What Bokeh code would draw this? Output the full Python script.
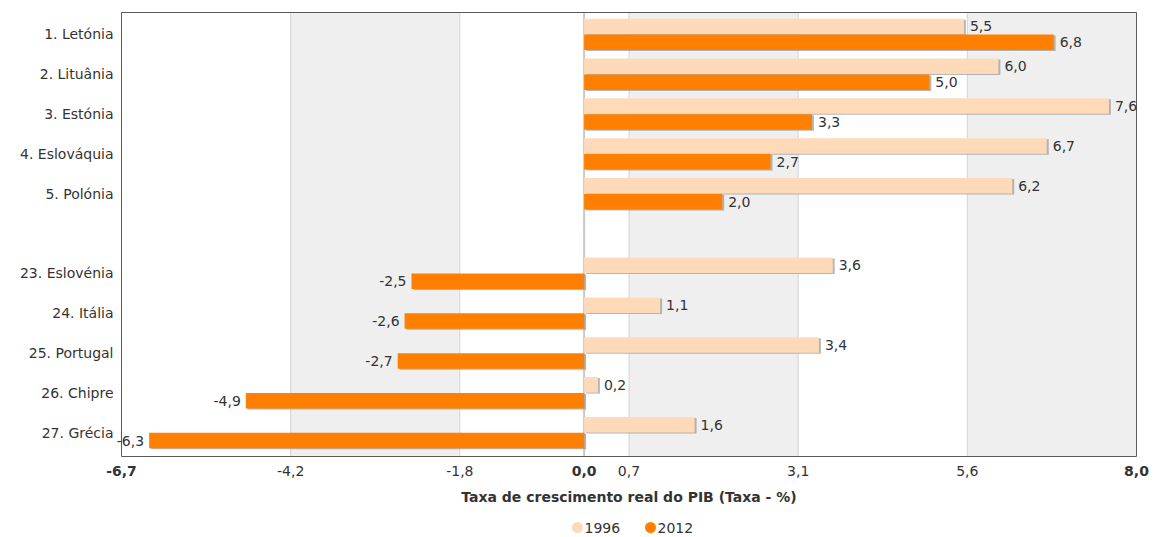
from bokeh.plotting import figure
from bokeh.models import Range1d, ColumnDataSource, BoxAnnotation
from bokeh.embed import file_html
from bokeh.resources import INLINE
from bokeh.core.properties import value

# Real GDP growth rate (%), 1996 vs 2012
countries = ["1. Letónia", "2. Lituânia", "3. Estónia", "4. Eslováquia", "5. Polónia",
             "23. Eslovénia", "24. Itália", "25. Portugal", "26. Chipre", "27. Grécia"]
slots = [0, 1, 2, 3, 4, 6, 7, 8, 9, 10]
g1996 = [5.5, 6.0, 7.6, 6.7, 6.2, 3.6, 1.1, 3.4, 0.2, 1.6]
g2012 = [6.8, 5.0, 3.3, 2.7, 2.0, -2.5, -2.6, -2.7, -4.9, -6.3]
series = ["1996", "2012"]

x_ticks = [-6.7, -4.25, -1.8, 0.0, 0.65, 3.1, 5.55, 8.0]
x_tick_labels = ["-6,7", "-4,2", "-1,8", "0,0", "0,7", "3,1", "5,6", "8,0"]
bold_ticks = [-6.7, 0.0, 8.0]
grid_ticks = [-4.25, -1.8, 0.65, 3.1, 5.55]
bands = [(-4.25, -1.8), (0.65, 3.1), (5.55, 8.0)]
x_title = "Taxa de crescimento real do PIB (Taxa - %)"

C96 = "#FFDAB9"
C12 = "#FF8000"
TXT = "#333333"
FONT = "DejaVu Sans"
FS = "14px"

def fmt(v):
    return f"{v:.1f}".replace(".", ",")

# plot area in data units and its pixel box on the page
X0, X1 = -6.7, 8.0
Y_TOP, Y_BOT = -0.55, 10.6
W, H = 1154, 537
L, R, T, B = 121, 1136, 12, 456
px_x = (X1 - X0) / (R - L)
px_y = (Y_BOT - Y_TOP) / (B - T)

def xd(px):
    return X0 + (px - L) * px_x

def yd(py):
    return Y_TOP + (py - T) * px_y

p = figure(frame_width=W, frame_height=H,
           x_range=Range1d(xd(0), xd(W)), y_range=Range1d(yd(H), yd(0)),
           x_axis_type=None, y_axis_type=None,
           output_backend="svg", toolbar_location=None,
           min_border=0)
p.outline_line_color = None
p.background_fill_color = "white"
p.border_fill_color = "white"
p.grid.visible = False

# alternating bands and grid lines
for a, b in bands:
    p.add_layout(BoxAnnotation(left=a, right=b, top=Y_TOP, bottom=Y_BOT,
                               fill_color="#EFEFEF", fill_alpha=1,
                               line_color=None, level="underlay"))
p.segment(x0=grid_ticks, x1=grid_ticks, y0=[Y_TOP] * len(grid_ticks), y1=[Y_BOT] * len(grid_ticks),
          line_color="#D4D4D4", line_width=1)
p.segment(x0=[0], x1=[0], y0=[Y_TOP], y1=[Y_BOT], line_color="#C8C8C8", line_width=2)

bh = 15.5 * px_y
sh_dx = 2 * px_x
sh_dy = 1 * px_y

src = ColumnDataSource(dict(
    y96=[s - 0.2 for s in slots], y12=[s + 0.2 for s in slots],
    sy96=[s - 0.2 + sh_dy for s in slots], sy12=[s + 0.2 + sh_dy for s in slots],
    v96=g1996, v12=g2012,
    s96=[v + sh_dx for v in g1996], s12=[v + sh_dx for v in g2012],
))

# bar shadows
p.hbar(y="sy96", left=sh_dx, right="s96", height=bh, source=src,
       fill_color="#999999", fill_alpha=0.7, line_color=None)
p.hbar(y="sy12", left=sh_dx, right="s12", height=bh, source=src,
       fill_color="#999999", fill_alpha=0.7, line_color=None)

# bars
p.hbar(y="y96", left=0, right="v96", height=bh, source=src, fill_color=C96, line_color=None)
p.hbar(y="y12", left=0, right="v12", height=bh, source=src, fill_color=C12, line_color=None)

# plot border
p.quad(left=[X0], right=[X1], top=[Y_TOP], bottom=[Y_BOT], fill_color=None,
       line_color="#5A5A5A", line_width=1)

txt = dict(text_font=value(FONT), text_font_size=FS, text_color=TXT, text_baseline="middle")

# value labels
vals = list(g1996) + list(g2012)
ys = [s - 0.2 for s in slots] + [s + 0.2 for s in slots]
pos = [(v, y) for v, y in zip(vals, ys) if v >= 0]
neg = [(v, y) for v, y in zip(vals, ys) if v < 0]
p.text(x=[v for v, _ in pos], y=[y for _, y in pos], text=[fmt(v) for v, _ in pos],
       x_offset=6, text_align="left", **txt)
p.text(x=[v for v, _ in neg], y=[y for _, y in neg], text=[fmt(v) for v, _ in neg],
       x_offset=-5, text_align="right", **txt)

# category labels
p.text(x=[X0] * len(slots), y=slots, text=countries, x_offset=-8, text_align="right", **txt)

# x tick labels
ty = Y_BOT + 14 * px_y
norm = [(t, l) for t, l in zip(x_ticks, x_tick_labels) if t not in bold_ticks]
bold = [(t, l) for t, l in zip(x_ticks, x_tick_labels) if t in bold_ticks]
p.text(x=[t for t, _ in norm], y=[ty] * len(norm), text=[l for _, l in norm],
       text_align="center", **txt)
p.text(x=[t for t, _ in bold], y=[ty] * len(bold), text=[l for _, l in bold],
       text_align="center", text_font_style="bold", **txt)

# axis title
p.text(x=[(X0 + X1) / 2], y=[Y_BOT + 40 * px_y], text=[x_title], text_align="center",
       text_font_style="bold", **txt)

# legend
ly = Y_BOT + 71 * px_y
lx = [xd(577), xd(650)]
p.scatter(x=lx, y=[ly, ly], marker="circle", size=11, fill_color=[C96, C12], line_color=None)
p.text(x=lx, y=[ly, ly], text=series, x_offset=7, text_align="left", **txt)

open("out.html", "w").write(file_html(p, INLINE))
